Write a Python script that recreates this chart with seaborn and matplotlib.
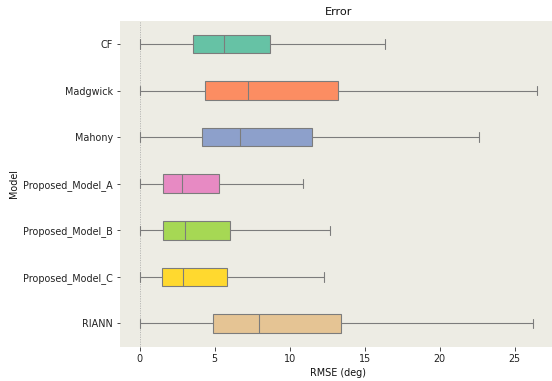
import numpy as np
import pandas as pd
import matplotlib
matplotlib.use("Agg")
import matplotlib.pyplot as plt
import seaborn as sns

# Five-number summaries (min, Q1, median, Q3, max) of RMSE per model, in degrees
models = ["CF", "Madgwick", "Mahony", "Proposed_Model_A",
          "Proposed_Model_B", "Proposed_Model_C", "RIANN"]
rmse_min = [0.02, 0.02, 0.02, 0.02, 0.02, 0.02, 0.02]
rmse_q1 = [3.55, 4.36, 4.16, 1.56, 1.53, 1.49, 4.89]
rmse_median = [5.62, 7.22, 6.71, 2.82, 3.04, 2.89, 7.93]
rmse_q3 = [8.67, 13.22, 11.51, 5.27, 6.00, 5.82, 13.42]
rmse_max = [16.33, 26.49, 22.60, 10.87, 12.69, 12.31, 26.22]

rows = []
for i, m in enumerate(models):
    for v in (rmse_min[i], rmse_q1[i], rmse_median[i], rmse_q3[i], rmse_max[i]):
        rows.append({"Model": m, "RMSE (deg)": v})
df = pd.DataFrame(rows)

sns.set_theme(style="white")
plt.rcParams["font.family"] = ["DejaVu Sans"]

W, H = 552, 381
fig = plt.figure(figsize=(W / 72, H / 72), dpi=72)
ax = fig.add_axes([120 / W, 1 - 346.7 / H, 437 / W, 326 / H])
ax.set_facecolor("#edece4")

sns.boxplot(data=df, x="RMSE (deg)", y="Model", hue="Model", order=models,
            palette="Set2", saturation=1, width=0.4, whis=(0, 100),
            linewidth=1.1, linecolor="#7c7c7c",
            showfliers=False, legend=False, ax=ax)

ax.axvline(0, color="#9a9a9a", linestyle=(0, (2, 2)), linewidth=0.6, zorder=0)

for s in ax.spines.values():
    s.set_visible(False)
ax.tick_params(axis="both", which="both", length=3.5, width=0.8,
               colors="#222222", labelsize=9.6, bottom=True, left=True)
ax.set_title("Error", fontsize=11.3, color="#111111")
ax.set_xlabel("RMSE (deg)", fontsize=9.6, color="#111111")
ax.set_ylabel("Model", fontsize=9.6, color="#111111")
ax.set_xticks([0, 5, 10, 15, 20, 25])

fig.savefig("out.png", dpi=72)
